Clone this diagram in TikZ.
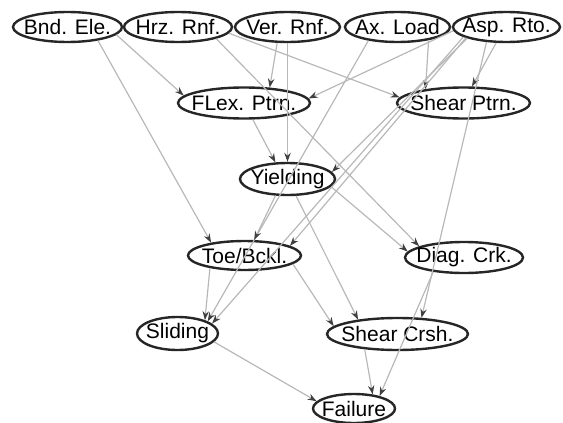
\documentclass[tikz,border=0pt]{standalone}
\usepackage{fontspec}
\setmainfont{Liberation Sans}
\usetikzlibrary{shapes.geometric,arrows.meta}
\begin{document}
\begin{tikzpicture}[x=0.5pt,y=-0.5pt,
  bn/.style={ellipse,draw=black!85,line width=1.2pt,inner sep=0pt,font=\fontsize{10.5}{12}\selectfont},
  cnx/.style={draw=black!28,line width=0.6pt,-{Stealth[length=4.5pt,width=3.2pt,color=black!75]}}]
\useasboundingbox (0,0) rectangle (563,423);
\newcommand\mynode[6]{\node[bn,minimum width=#4pt,minimum height=#5pt] (#1) at (#2,#3) {\makebox[0pt]{#6}};}
\mynode{bnd}{67.5}{27}{54.5}{15}{Bnd. Ele.}
\mynode{hrz}{178}{27}{54}{15}{Hrz. Rnf.}
\mynode{ver}{287.5}{27}{52.5}{15}{Ver. Rnf.}
\mynode{ax}{397.5}{27}{52.5}{15}{Ax. Load}
\mynode{asp}{506.5}{27}{53.5}{15}{Asp. Rto.}
\mynode{flex}{244}{103}{66}{15.5}{FLex. Ptrn.}
\mynode{shp}{463.5}{103}{66.5}{15.5}{Shear Ptrn.}
\mynode{yld}{287.5}{179}{47.5}{16}{Yielding}
\mynode{toe}{244.5}{255.5}{56.5}{14.5}{Toe/Bckl.}
\mynode{diag}{464}{257.5}{59}{15.5}{Diag. Crk.}
\mynode{sld}{177.5}{333.5}{40.5}{16.5}{Sliding}
\mynode{scr}{397.5}{334}{70.5}{16}{Shear Crsh.}
\mynode{fail}{354}{408.5}{41}{14.5}{Failure}
\draw[cnx] (bnd.351.2) -- (flex.173.3);
\draw[cnx] (bnd.336.9) -- (toe.159.9);
\draw[cnx] (hrz.353.5) -- (shp.175.9);
\draw[cnx] (hrz.343.6) -- (diag.166.8);
\draw[cnx] (ver.237.5) -- (flex.31);
\draw[cnx] (ver.south) -- (yld.north);
\draw[cnx] (ax.337.2) -- (shp.160.4);
\draw[cnx] (ax.205) -- (sld.22.3);
\draw[cnx] (asp.184.5) -- (flex.4.9);
\draw[cnx] (asp.237.5) -- (shp.63.8);
\draw[cnx] (asp.196.7) -- (yld.9.5);
\draw[cnx] (asp.195.1) -- (toe.12);
\draw[cnx] (asp.193.6) -- (sld.16.9);
\draw[cnx] (asp.217.3) -- (scr.34);
\draw[cnx] (flex.298.7) -- (yld.126.8);
\draw[cnx] (yld.234.9) -- (toe.58);
\draw[cnx] (yld.350.5) -- (diag.174);
\draw[cnx] (yld.297.9) -- (scr.160.2);
\draw[cnx] (toe.200.1) -- (sld.26.7);
\draw[cnx] (toe.350.6) -- (scr.173.7);
\draw[cnx] (diag.205.9) -- (fail.26.1);
\draw[cnx] (scr.205.3) -- (fail.37.8);
\draw[cnx] (sld.347.5) -- (fail.169.1);
\end{tikzpicture}
\end{document}
